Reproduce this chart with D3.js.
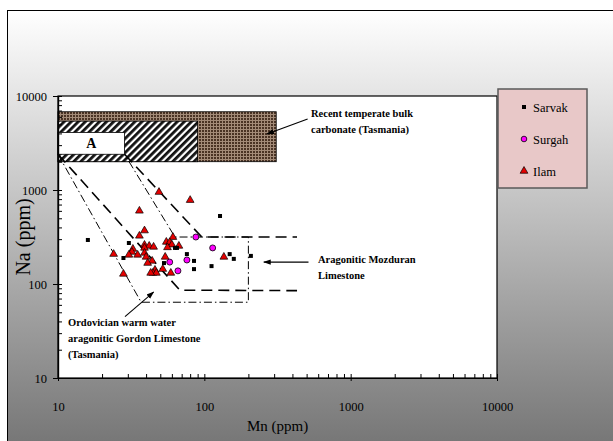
<!DOCTYPE html>
<html>
<head>
<meta charset="utf-8">
<script src="https://cdn.jsdelivr.net/npm/d3@7/dist/d3.min.js"></script>
<style>
  body { margin: 0; }
  text { font-family: "Liberation Serif", "Times New Roman", serif; }
</style>
</head>
<body>
<div id="chart"></div>
<script>
// canvas and plot area
let width = 613, height = 441;
let plotLeft = 58, plotRight = 497, plotTop = 96, plotBottom = 378;

// samples, [Mn ppm, Na ppm]
let sarvak = [[16, 294], [30.5, 273], [28, 189], [63, 242], [65, 242], [76, 208],
  [85, 176], [85, 144], [112, 155], [128, 529], [149, 208], [159, 185], [208, 199], [53, 167]];
let surgah = [[87.5, 316], [114, 242], [58, 171], [76, 180], [66, 138]];
let ilam = [[49, 950], [80, 780], [36, 600], [39, 370], [36, 325], [61, 315], [55, 280],
  [58, 278], [60, 262], [56, 245], [67, 254], [39, 260], [42, 254], [45, 248], [39, 242],
  [32.5, 236], [32, 219], [35, 204], [30.5, 204], [24, 208], [39, 214], [40, 194],
  [44, 176], [41, 167], [46, 141], [44.5, 131], [47, 131], [43, 131], [28, 128],
  [54, 194], [52, 144], [59, 131], [136, 194]];

// reference fields, Mn and Na ranges
let recentMn = [10, 310], recentNa = [2000, 6800];
let hatchMn = [10, 90], hatchNa = [2000, 5400];
let boxAMn = [10, 28.5], boxANa = [2400, 4100];

// envelope outlines, [Mn, Na]
let gordonOutline = [[10, 2400], [37, 64], [200, 64], [200, 316], [63, 316], [28.5, 2400]];
let mozduranLower = [[10, 2400], [68, 86], [430, 85]];
let mozduranUpper = [[28.5, 2400], [96, 316], [430, 316]];

let majorTicks = [10, 100, 1000, 10000];
let legendNames = ["Sarvak", "Surgah", "Ilam"];

let x = d3.scaleLog().domain([10, 10000]).range([plotLeft, plotRight]);
let y = d3.scaleLog().domain([10, 10000]).range([plotBottom, plotTop]);

let minorTicks = [];
[10, 100, 1000].forEach(function(d) {
  for (let k = 2; k <= 9; k++) minorTicks.push(d * k);
});

let svg = d3.select("#chart").append("svg")
  .attr("width", width)
  .attr("height", height)
  .attr("font-family", "Liberation Serif, Times New Roman, serif");

let defs = svg.append("defs");

let grad = defs.append("linearGradient")
  .attr("id", "bg").attr("x1", 0).attr("y1", 0).attr("x2", 0).attr("y2", 1);
grad.append("stop").attr("offset", "0%").attr("stop-color", "#ffffff");
grad.append("stop").attr("offset", "100%").attr("stop-color", "#747474");

// brown grid texture
let brown = defs.append("pattern")
  .attr("id", "brown").attr("width", 3).attr("height", 3)
  .attr("patternUnits", "userSpaceOnUse");
brown.append("rect").attr("width", 3).attr("height", 3).attr("fill", "#4a3324");
brown.append("rect").attr("width", 3).attr("height", 1).attr("fill", "#a38b78");
brown.append("rect").attr("width", 1).attr("height", 3).attr("fill", "#a38b78");

// diagonal hatch
let hatch = defs.append("pattern")
  .attr("id", "hatch").attr("width", 5).attr("height", 5)
  .attr("patternUnits", "userSpaceOnUse")
  .attr("patternTransform", "rotate(45)");
hatch.append("rect").attr("width", 5).attr("height", 5).attr("fill", "#ffffff");
hatch.append("rect").attr("width", 2.8).attr("height", 5).attr("fill", "#111111");

defs.append("marker")
  .attr("id", "arrow").attr("viewBox", "0 0 10 10")
  .attr("refX", 9).attr("refY", 5)
  .attr("markerWidth", 7).attr("markerHeight", 7)
  .attr("orient", "auto")
  .append("path").attr("d", "M0,1.5L10,5L0,8.5Z").attr("fill", "#000");

// chart background
svg.append("rect")
  .attr("x", 7.5).attr("y", 10.5)
  .attr("width", width).attr("height", height)
  .attr("fill", "url(#bg)")
  .attr("stroke", "#000").attr("stroke-width", 1);

// plot area
svg.append("rect")
  .attr("x", plotLeft).attr("y", plotTop)
  .attr("width", plotRight - plotLeft).attr("height", plotBottom - plotTop)
  .attr("fill", "#fff")
  .attr("stroke", "#000").attr("stroke-width", 1.2);

// fields
function fieldBox(mn, na, fill) {
  return svg.append("rect")
    .attr("x", x(mn[0]))
    .attr("y", y(na[1]))
    .attr("width", x(mn[1]) - x(mn[0]))
    .attr("height", y(na[0]) - y(na[1]))
    .attr("fill", fill)
    .attr("stroke", "#000").attr("stroke-width", 0.8);
}
fieldBox(recentMn, recentNa, "url(#brown)");
fieldBox(hatchMn, hatchNa, "url(#hatch)");
fieldBox(boxAMn, boxANa, "#fff");

svg.append("text")
  .attr("x", (x(boxAMn[0]) + x(boxAMn[1])) / 2)
  .attr("y", (y(boxANa[0]) + y(boxANa[1])) / 2 + 5)
  .attr("text-anchor", "middle")
  .attr("font-size", 14).attr("font-weight", "bold")
  .text("A");

// envelopes
let line = d3.line()
  .x(function(d) { return x(d[0]); })
  .y(function(d) { return y(d[1]); });

svg.append("path").datum(gordonOutline)
  .attr("d", line).attr("fill", "none")
  .attr("stroke", "#000").attr("stroke-width", 1)
  .attr("stroke-dasharray", "8,3,1.5,3");

[mozduranLower, mozduranUpper].forEach(function(pts) {
  svg.append("path").datum(pts)
    .attr("d", line).attr("fill", "none")
    .attr("stroke", "#000").attr("stroke-width", 1.6)
    .attr("stroke-dasharray", "11,6");
});

// axes
svg.append("g")
  .attr("transform", "translate(" + plotLeft + ",0)")
  .call(d3.axisLeft(y).tickValues(majorTicks).tickFormat(d3.format("d"))
    .tickSizeInner(5).tickSizeOuter(0).tickPadding(6));
svg.append("g")
  .attr("transform", "translate(" + plotLeft + ",0)")
  .call(d3.axisRight(y).tickValues(majorTicks.concat(minorTicks)).tickFormat("")
    .tickSizeInner(4).tickSizeOuter(0));

svg.append("g")
  .attr("transform", "translate(0," + plotBottom + ")")
  .call(d3.axisBottom(x).tickValues(majorTicks).tickFormat(d3.format("d"))
    .tickSizeInner(3).tickSizeOuter(0).tickPadding(21));
svg.append("g")
  .attr("transform", "translate(0," + plotBottom + ")")
  .call(d3.axisTop(x).tickValues(majorTicks.concat(minorTicks)).tickFormat("")
    .tickSizeInner(4).tickSizeOuter(0));

svg.selectAll(".domain").attr("stroke", "#000").attr("stroke-width", 1.2);
svg.selectAll(".tick line").attr("stroke", "#000");
svg.selectAll(".tick text")
  .attr("font-family", "Liberation Serif, Times New Roman, serif")
  .attr("font-size", 12.5).attr("fill", "#000");

svg.append("text")
  .attr("x", (plotLeft + plotRight) / 2)
  .attr("y", 431)
  .attr("text-anchor", "middle")
  .attr("font-size", 15)
  .text("Mn (ppm)");

svg.append("text")
  .attr("transform", "translate(30," + (plotTop + plotBottom) / 2 + ") rotate(-90)")
  .attr("text-anchor", "middle")
  .attr("font-size", 20)
  .text("Na (ppm)");

// samples
let tri = d3.symbol().type(d3.symbolTriangle).size(26);

svg.append("g").selectAll("path")
  .data(ilam).enter().append("path")
  .attr("d", tri)
  .attr("transform", function(d) { return "translate(" + x(d[0]) + "," + y(d[1]) + ")"; })
  .attr("fill", "#e60000").attr("stroke", "#000").attr("stroke-width", 0.7);

svg.append("g").selectAll("rect")
  .data(sarvak).enter().append("rect")
  .attr("x", function(d) { return x(d[0]) - 2; })
  .attr("y", function(d) { return y(d[1]) - 2; })
  .attr("width", 4).attr("height", 4)
  .attr("fill", "#000");

svg.append("g").selectAll("circle")
  .data(surgah).enter().append("circle")
  .attr("cx", function(d) { return x(d[0]); })
  .attr("cy", function(d) { return y(d[1]); })
  .attr("r", 3)
  .attr("fill", "#ff00ff").attr("stroke", "#000").attr("stroke-width", 0.8);

// annotations
function note(lines, tx, ty, from, to) {
  let t = svg.append("text")
    .attr("font-size", 10.5).attr("font-weight", "bold");
  lines.forEach(function(s, i) {
    t.append("tspan").attr("x", tx).attr("y", ty + i * 16).text(s);
  });
  svg.append("line")
    .attr("x1", x(from[0])).attr("y1", y(from[1]))
    .attr("x2", x(to[0])).attr("y2", y(to[1]))
    .attr("stroke", "#000").attr("stroke-width", 1.1)
    .attr("marker-end", "url(#arrow)");
}
note(["Recent temperate bulk", "carbonate (Tasmania)"], 311, 117, [508, 5700], [268, 3950]);
note(["Aragonitic Mozduran", "Limestone"], 318, 263, [515, 171], [255, 171]);
note(["Ordovician warm water", "aragonitic Gordon Limestone", "(Tasmania)"], 68, 326, [28.7, 45], [45, 82]);

// legend
let legend = svg.append("g");
legend.append("rect")
  .attr("x", 498).attr("y", 89).attr("width", 89).attr("height", 99)
  .attr("fill", "#e8c8c8").attr("stroke", "#5a5a5a").attr("stroke-width", 1.5);

legendNames.forEach(function(name, i) {
  let cy = 107 + i * 32;
  let g = legend.append("g").attr("transform", "translate(524," + cy + ")");
  if (i === 0) {
    g.append("rect").attr("x", -2).attr("y", -2).attr("width", 4).attr("height", 4).attr("fill", "#000");
  } else if (i === 1) {
    g.append("circle").attr("r", 2.8).attr("fill", "#ff00ff").attr("stroke", "#000").attr("stroke-width", 0.8);
  } else {
    g.append("path").attr("d", tri).attr("fill", "#e60000").attr("stroke", "#000").attr("stroke-width", 0.7);
  }
  g.append("text").attr("x", 9).attr("y", 4.5).attr("font-size", 12.5).text(name);
});
</script>
</body>
</html>
